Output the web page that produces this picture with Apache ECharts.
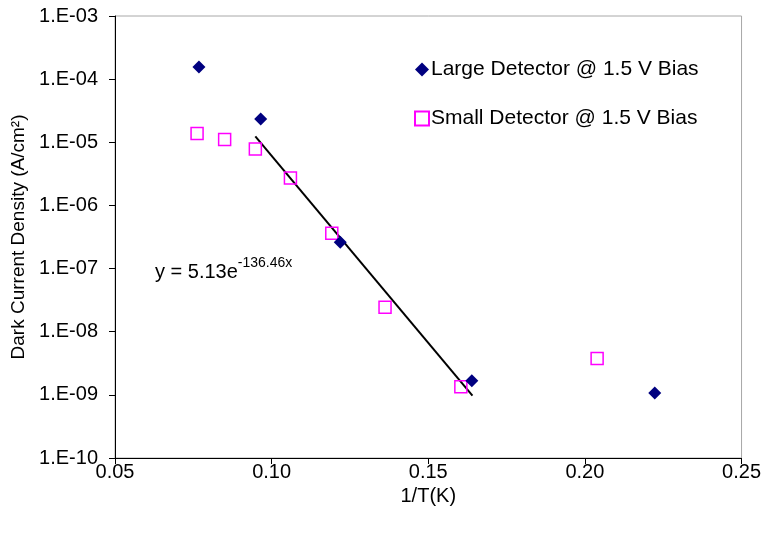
<!DOCTYPE html>
<html>
<head>
<meta charset="utf-8">
<script src="https://cdn.jsdelivr.net/npm/echarts@6/dist/echarts.min.js"></script>
<style>
html,body{margin:0;padding:0;background:#fff;}
#chart{width:764px;height:533px;}
</style>
</head>
<body>
<div id="chart"></div>
<script>
// Data
var largeX = [0.0768, 0.0965, 0.1219, 0.1639, 0.2223];
var largeY = [1.56e-4, 2.33e-5, 2.6e-7, 1.68e-9, 1.07e-9];
var smallX = [0.0762, 0.0850, 0.0948, 0.1060, 0.1192, 0.1362, 0.1604, 0.2039];
var smallY = [1.38e-5, 1.11e-5, 7.8e-6, 2.71e-6, 3.64e-7, 2.44e-8, 1.35e-9, 3.76e-9];
var trendX = [0.0948, 0.1641];
var trendY = [1.24e-5, 9.7e-10];
var xTicks = [0.05, 0.10, 0.15, 0.20, 0.25];
var yTicks = ['1.E-10','1.E-09','1.E-08','1.E-07','1.E-06','1.E-05','1.E-04','1.E-03'];
var seriesNames = ['Large Detector @ 1.5 V Bias', 'Small Detector @ 1.5 V Bias'];

function pairs(xs, ys){ return xs.map(function(x,i){ return [x, ys[i]]; }); }

var FONT = '"Liberation Sans", Arial, sans-serif';
var chart = echarts.init(document.getElementById('chart'), null, {renderer:'canvas'});
chart.setOption({
  animation:false,
  backgroundColor:'#fff',
  textStyle:{fontFamily:FONT},
  grid:{left:115, right:20, top:16, bottom:75, show:true, borderColor:'#a8a8a8', borderWidth:1},
  legend:{
    orient:'vertical', left:409, top:54, itemGap:28, itemWidth:14, itemHeight:14,
    textStyle:{fontFamily:FONT, fontSize:21, color:'#000', padding:[0,0,0,-3]},
    data:[{name:seriesNames[0], icon:'diamond'}, {name:seriesNames[1], icon:'rect'}]
  },
  xAxis:{
    type:'value', min:xTicks[0], max:xTicks[xTicks.length-1], interval:0.05,
    name:'1/T(K)', nameLocation:'middle', nameGap:28,
    nameTextStyle:{fontFamily:FONT, fontSize:20, color:'#000'},
    axisLine:{onZero:false, lineStyle:{color:'#000', width:1}},
    axisTick:{show:true, length:6, lineStyle:{color:'#000'}},
    axisLabel:{fontFamily:FONT, fontSize:20, color:'#000', margin:4,
      formatter:function(v){ return v.toFixed(2); }},
    splitLine:{show:false}
  },
  yAxis:{
    type:'log', logBase:10, min:1e-10, max:1e-3, splitNumber:7,
    name:'Dark Current Density (A/cm²)', nameLocation:'middle', nameGap:81,
    nameTextStyle:{fontFamily:FONT, fontSize:19, color:'#000'},
    axisLine:{onZero:false, lineStyle:{color:'#000', width:1}},
    axisTick:{show:true, length:6, lineStyle:{color:'#000'}},
    axisLabel:{fontFamily:FONT, fontSize:20, color:'#000', margin:17,
      formatter:function(v){
        var e = Math.round(Math.log10(v));
        var idx = e + 10;
        return yTicks[idx] !== undefined ? yTicks[idx] : '';
      }},
    splitLine:{show:false}
  },
  graphic:[{
    type:'text', left:155, top:256,
    style:{
      rich:{
        a:{fontFamily:FONT, fontSize:20, fill:'#000', lineHeight:26, verticalAlign:'bottom'},
        b:{fontFamily:FONT, fontSize:14, fill:'#000', lineHeight:26, verticalAlign:'top'}
      },
      text:'{a|y = 5.13e}{b|-136.46x}'
    }
  }],
  series:[
    {
      name:'trend', type:'line', data:pairs(trendX, trendY), symbol:'none',
      lineStyle:{color:'#000', width:2}, silent:true, z:1
    },
    {
      name:seriesNames[1], type:'scatter', data:pairs(smallX, smallY),
      symbol:'rect', symbolSize:12,
      itemStyle:{color:'rgba(255,255,255,0)', borderColor:'#ff00ff', borderWidth:1.5, opacity:1}, z:2
    },
    {
      name:seriesNames[0], type:'scatter', data:pairs(largeX, largeY),
      symbol:'diamond', symbolSize:13,
      itemStyle:{color:'#000080', opacity:1}, z:3
    }
  ]
});
</script>
</body>
</html>
